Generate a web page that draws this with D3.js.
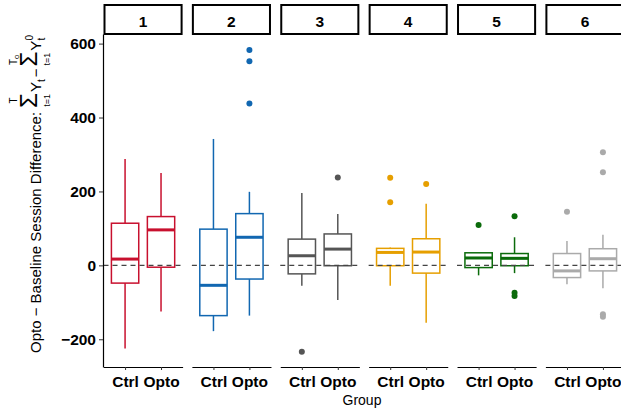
<!DOCTYPE html>
<html>
<head>
<meta charset="utf-8">
<script src="https://cdn.jsdelivr.net/npm/d3@7"></script>
<style>
  body { margin: 0; background: #fff; }
  svg { display: block; font-family: "Liberation Sans", Arial, Helvetica, sans-serif; }
</style>
</head>
<body>
<svg id="chart" width="621" height="410"></svg>
<script>
// ---- data ----
const panels = ["1", "2", "3", "4", "5", "6"];
const groups = ["Ctrl", "Opto"];
const panelColors = ["#c8102e", "#1167b1", "#555555", "#e69f00", "#0b6b0b", "#aaaaaa"];
// box stats per panel: [lower whisker, Q1, median, Q3, upper whisker]
const ctrlStats = [
  [-225, -48, 17, 114, 288],
  [-178, -136, -54, 98, 342],
  [-55, -23, 26, 71, 196],
  [-55, -1, 35, 46, 48],
  [-27, -6, 20, 34, 34],
  [-51, -33, -15, 32, 66]
];
const optoStats = [
  [-125, -5, 96, 132, 250],
  [-136, -37, 76, 140, 199],
  [-94, -1, 44, 85, 139],
  [-155, -21, 36, 72, 167],
  [-21, -1, 19, 32, 76],
  [-62, -15, 18, 45, 83]
];
const ctrlOutliers = [[], [], [-234], [237, 171], [109], [145]];
const optoOutliers = [[], [583, 552, 438], [238], [220], [133, -74, -83], [306, 252, -132, -139]];
const yTicks = [-200, 0, 200, 400, 600];

// ---- layout ----
const svg = d3.select("#chart");
const plotTop = 34, plotBottom = 367;
const y = d3.scaleLinear().domain([-275, 626]).range([plotBottom, plotTop]);
const panelX = d3.scaleBand().domain(panels).range([103.5, 624.5]).paddingInner(0.105).paddingOuter(0);
const pw = panelX.bandwidth();
const inner = d3.scalePoint().domain(groups).range([0, pw]).padding(0.6);
const boxW = inner.step() * 0.76;
const labelFont = 15.5;

panels.forEach((p, i) => {
  const g = svg.append("g").attr("transform", `translate(${panelX(p)},0)`);
  const col = panelColors[i];
  const series = [
    { grp: "Ctrl", s: ctrlStats[i], out: ctrlOutliers[i] },
    { grp: "Opto", s: optoStats[i], out: optoOutliers[i] }
  ];
  series.forEach(d => {
    const cx = inner(d.grp);
    const [lo, q1, med, q3, hi] = d.s;
    g.append("line").attr("x1", cx).attr("x2", cx).attr("y1", y(hi)).attr("y2", y(q3))
      .attr("stroke", col).attr("stroke-width", 1.5);
    g.append("line").attr("x1", cx).attr("x2", cx).attr("y1", y(q1)).attr("y2", y(lo))
      .attr("stroke", col).attr("stroke-width", 1.5);
    g.append("rect").attr("x", cx - boxW / 2).attr("width", boxW)
      .attr("y", y(q3)).attr("height", y(q1) - y(q3))
      .attr("fill", "#fff").attr("stroke", col).attr("stroke-width", 1.5);
    g.append("line").attr("x1", cx - boxW / 2).attr("x2", cx + boxW / 2)
      .attr("y1", y(med)).attr("y2", y(med))
      .attr("stroke", col).attr("stroke-width", 3);
    g.selectAll(null).data(d.out).enter().append("circle")
      .attr("cx", cx).attr("cy", v => y(v)).attr("r", 3).attr("fill", col);
  });
  // reference line at 0
  g.append("line").attr("x1", 0).attr("x2", pw).attr("y1", y(0)).attr("y2", y(0))
    .attr("stroke", "#444").attr("stroke-width", 1.2).attr("stroke-dasharray", "5,4");

  // x axis
  const ax = g.append("g").attr("transform", `translate(0,${plotBottom})`)
    .call(d3.axisBottom(inner).tickSize(3).tickSizeOuter(0).tickPadding(5.5));
  ax.select(".domain").attr("stroke", "#000").attr("stroke-width", 1.2);
  ax.selectAll(".tick line").attr("stroke", "#333").attr("stroke-width", 1);
  ax.selectAll(".tick text").attr("font-size", labelFont).attr("font-weight", "bold").attr("fill", "#000")
    .attr("font-family", "Liberation Sans, Arial, sans-serif");

  // strip
  g.append("rect").attr("x", 1).attr("y", 5).attr("width", pw - 2).attr("height", 29)
    .attr("fill", "#fff").attr("stroke", "#000").attr("stroke-width", 2);
  g.append("text").attr("x", pw / 2).attr("y", 26.5).attr("text-anchor", "middle")
    .attr("font-size", labelFont).attr("font-weight", "bold").text(p);
});

// y axis (first panel only)
const yax = svg.append("g").attr("transform", `translate(${panelX(panels[0]) - 0.5},0)`)
  .call(d3.axisLeft(y).tickValues(yTicks).tickSize(4).tickSizeOuter(0).tickPadding(3)
    .tickFormat(d => d < 0 ? "\u2212" + Math.abs(d) : String(d)));
yax.select(".domain").attr("stroke", "#000").attr("stroke-width", 1.2);
yax.selectAll(".tick line").attr("stroke", "#333");
yax.selectAll(".tick text").attr("font-size", labelFont).attr("font-weight", "bold").attr("fill", "#000")
  .attr("font-family", "Liberation Sans, Arial, sans-serif");

// x title
svg.append("text").attr("x", 362).attr("y", 405).attr("text-anchor", "middle")
  .attr("font-size", 14).text("Group");

// y title with math
const yl = svg.append("g").attr("transform", "translate(41,353) rotate(-90)");
function put(txt, x, yy, size, anchor) {
  const t = yl.append("text").attr("x", x).attr("y", yy).attr("font-size", size)
    .attr("text-anchor", anchor || "start").text(txt);
  return t.node().getComputedTextLength();
}
let cx = 0;
cx += put("Opto \u2212 Baseline Session Difference:", cx, 0, 15);
cx += 4;
function sigma(upper, upperSub) {
  const w = put("\u03A3", cx, -4, 24);
  const mid = cx + w / 2;
  if (upperSub) {
    const tw = put(upper, mid - 3, -24, 10, "middle");
    put(upperSub, mid - 3 + tw / 2, -22, 7.5);
  } else {
    put(upper, mid, -24, 10, "middle");
  }
  put("t=1", mid, 9, 9, "middle");
  cx += w + 1;
}
sigma("T");
cx += put("Y", cx, 0, 15);
cx += put("t", cx, 4, 10) + 2;
cx += put("\u2212", cx, 0, 15) + 2;
sigma("T", "o");
cx += put("Y", cx, 0, 15);
put("0", cx, -8, 10);
put("t", cx, 4, 10);
</script>
</body>
</html>
